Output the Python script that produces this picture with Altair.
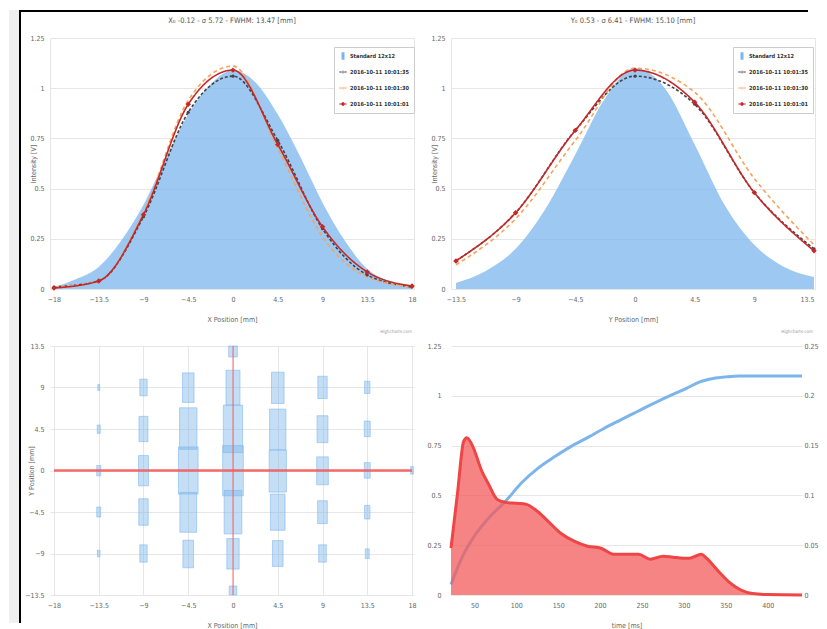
import altair as alt
import pandas as pd

FONT = "'Liberation Sans Narrow', 'DejaVu Sans Condensed', sans-serif"
GRID = "#e6e6e6"
LABEL = "#666666"

SERIES = ["Standard 12x12", "2016-10-11 10:01:35", "2016-10-11 10:01:30", "2016-10-11 10:01:01"]
COLORS = ["#7cb5ec", "#434348", "#f7a35c", "#c62828"]
DASHES = [[3, 2], [4, 3], [1, 0]]

# ---- top-left: X profile ----
xa_std = [-18, -15.75, -13.5, -11.25, -9, -6.75, -4.5, -2.25, 0, 2.25, 4.5, 6.75, 9, 11.25, 13.5, 15.75, 18]
ya_std = [0.01, 0.05, 0.11, 0.24, 0.42, 0.65, 0.87, 1.02, 1.09, 1.03, 0.87, 0.66, 0.43, 0.24, 0.10, 0.04, 0.02]
xa = [-18, -13.5, -9, -4.5, 0, 4.5, 9, 13.5, 18]
ya_35 = [0.01, 0.04, 0.36, 0.88, 1.06, 0.74, 0.30, 0.07, 0.01]
ya_30 = [0.01, 0.04, 0.38, 0.94, 1.11, 0.70, 0.26, 0.06, 0.01]
ya_01 = [0.005, 0.04, 0.37, 0.92, 1.09, 0.72, 0.31, 0.085, 0.015]

# ---- top-right: Y profile ----
xb_std = [-13.5, -11.25, -9, -6.75, -4.5, -2.25, 0, 2.25, 4.5, 6.75, 9, 11.25, 13.5]
yb_std = [0.03, 0.09, 0.20, 0.40, 0.67, 0.95, 1.10, 1.00, 0.72, 0.42, 0.22, 0.11, 0.06]
xb = [-13.5, -9, -4.5, 0, 4.5, 9, 13.5]
yb_35 = [0.14, 0.38, 0.79, 1.06, 0.92, 0.48, 0.20]
yb_30 = [0.12, 0.35, 0.74, 1.10, 0.98, 0.55, 0.22]
yb_01 = [0.14, 0.38, 0.79, 1.09, 0.93, 0.48, 0.19]

# ---- bottom-left: spot map boxes ----
box_x = [-13.5] * 5 + [-9] * 5 + [-4.5] * 5 + [0] * 7 + [4.5] * 5 + [9] * 5 + [13.5] * 5 + [18]
box_lo = [8.68, 4.03, -0.58, -5.04, -9.36,
          8.1, 3.13, -1.66, -5.94, -9.94,
          7.38, 2.3, -2.56, -6.7, -10.55,
          12.31, 7.09, 1.94, -2.74, -6.88, -10.69, -13.5,
          7.27, 2.23, -2.34, -6.48, -10.4,
          7.81, 3.02, -1.55, -5.76, -9.94,
          8.35, 3.67, -0.83, -5.26, -9.54,
          -0.4]
box_hi = [9.32, 4.93, 0.54, -3.96, -8.64,
          9.9, 5.87, 1.62, -3.06, -8.06,
          10.58, 6.8, 2.56, -2.38, -7.56,
          13.5, 10.87, 7.09, 2.7, -2.16, -7.38, -12.53,
          10.66, 6.66, 2.23, -2.56, -7.6,
          10.22, 5.94, 1.48, -3.28, -8.06,
          9.68, 5.36, 0.86, -3.78, -8.5,
          0.43]
box_w = [0.2, 0.3, 0.4, 0.4, 0.25,
         0.74, 0.9, 1.0, 0.95, 0.74,
         1.17, 1.74, 1.98, 1.68, 1.07,
         0.87, 1.41, 1.94, 2.08, 1.78, 1.24, 0.77,
         1.27, 1.64, 1.74, 1.47, 1.07,
         0.94, 1.1, 1.17, 0.97, 0.77,
         0.54, 0.6, 0.6, 0.54, 0.4,
         0.27]
cross_x1 = [-18, 0]
cross_x2 = [18, 0]
cross_lo = [0, -13.5]
cross_hi = [0, 13.5]

# ---- bottom-right: time series ----
t_red = [22, 30, 37, 41, 47, 59, 67, 77, 87, 100, 112, 122, 138, 153, 169, 185, 201, 216, 232, 246,
         260, 275, 287, 299, 307, 321, 327, 341, 354, 368, 382, 400, 441]
v_red = [0.047, 0.104, 0.154, 0.158, 0.151, 0.124, 0.111, 0.096, 0.093, 0.092, 0.091, 0.086, 0.074,
         0.062, 0.054, 0.049, 0.047, 0.041, 0.041, 0.041, 0.036, 0.039, 0.038, 0.037, 0.037, 0.041,
         0.037, 0.024, 0.013, 0.005, 0.0014, 0.0004, 0.0]
t_blue = [22, 35, 51, 67, 87, 106, 126, 146, 165, 185, 205, 224, 244, 264, 283, 303, 319, 335, 350, 366, 441]
v_blue = [0.053, 0.187, 0.303, 0.387, 0.47, 0.562, 0.637, 0.695, 0.745, 0.79, 0.837, 0.878, 0.92,
          0.962, 1.0, 1.037, 1.07, 1.087, 1.095, 1.1, 1.1]

intensity_ticks = [0, 0.25, 0.5, 0.75, 1, 1.25]
x_ticks = [-18, -13.5, -9, -4.5, 0, 4.5, 9, 13.5, 18]
y_ticks = [-13.5, -9, -4.5, 0, 4.5, 9, 13.5]
time_ticks = [50, 100, 150, 200, 250, 300, 350, 400]
right_ticks = [0, 0.05, 0.1, 0.15, 0.2, 0.25]

SQUARE = "M-0.4,-1H0.4V1H-0.4Z"
DOTDASH = "M-1,-0.12H1V0.12H-1Z M-0.35,0A0.35,0.35 0 1,0 0.35,0A0.35,0.35 0 1,0 -0.35,0Z"
DIAMOND = "M-1,-0.12H1V0.12H-1Z M0,-0.6L0.6,0L0,0.6L-0.6,0Z"
LEG_SHAPES = [SQUARE, DOTDASH, DOTDASH, DIAMOND]


def make_legend(lx, ly):
    return alt.Legend(
        title=None, orient="none", legendX=lx, legendY=ly, fillColor="white",
        strokeColor="#cccccc", padding=5, cornerRadius=0, labelFont=FONT, labelFontSize=5.6,
        labelFontWeight="bold", labelColor="#333333", symbolSize=56, rowPadding=8, labelOffset=3,
        symbolStrokeWidth=0, symbolOpacity=1,
    )


one = pd.DataFrame({"k": [0]})


def axis_kw(**kw):
    base = dict(labelFont=FONT, labelFontSize=7, labelColor=LABEL, titleFont=FONT, titleFontSize=7,
                titleColor=LABEL, titleFontWeight="normal", gridColor=GRID, ticks=False, domain=False,
                format=".2~f")
    base.update(kw)
    return alt.Axis(**base)


def profile(xs_std, ys_std, xs, y35, y30, y01, title, xtitle, xdom, width, legx):
    std_df = pd.DataFrame({"pos": xs_std, "val": ys_std, "series": SERIES[0]})
    ln_df = pd.concat([pd.DataFrame({"pos": xs, "val": v, "series": s})
                       for v, s in zip([y35, y30, y01], SERIES[1:])], ignore_index=True)
    leg_df = pd.DataFrame({"pos": [xdom[0] - 50] * 4, "val": [0.5] * 4, "series": SERIES})
    cscale = alt.Scale(domain=SERIES, range=COLORS)
    legend = make_legend(legx, 9)
    color = alt.Color("series:N", scale=cscale, legend=legend)
    x = alt.X("pos:Q", scale=alt.Scale(domain=xdom, nice=False, zero=False),
              axis=axis_kw(values=xs, grid=False, title=xtitle, labelPadding=6, titlePadding=13))
    y = alt.Y("val:Q", scale=alt.Scale(domain=[0, 1.25], nice=False),
              axis=axis_kw(values=intensity_ticks, grid=True, title="Intensity [V]",
                           labelPadding=6, titleX=-17, titleBaseline="middle"))
    layers = [
        alt.Chart(std_df).mark_area(interpolate="monotone", opacity=0.75).encode(x=x, y=y, color=color),
        alt.Chart(ln_df).mark_line(interpolate="monotone", strokeWidth=1.6).encode(
            x=x, y=y, color=color,
            strokeDash=alt.StrokeDash("series:N", scale=alt.Scale(domain=SERIES[1:], range=DASHES), legend=None)),
        alt.Chart(ln_df).transform_filter(alt.datum.series == SERIES[1]).mark_point(
            shape="circle", filled=True, size=10, opacity=1).encode(x=x, y=y, color=color),
        alt.Chart(ln_df).transform_filter(alt.datum.series == SERIES[3]).mark_point(
            shape="diamond", filled=True, size=30, opacity=1).encode(x=x, y=y, color=color),
        alt.Chart(leg_df).mark_point(filled=True, clip=True, size=56, opacity=1).encode(
            x=x, y=y, color=color,
            shape=alt.Shape("series:N", scale=alt.Scale(domain=SERIES, range=LEG_SHAPES), legend=legend)),
        alt.Chart(one).mark_text(text="Highcharts.com", align="right", fontSize=4.5, color="#999999",
                                 font=FONT).encode(x=alt.value(width - 2), y=alt.value(294)),
    ]
    return alt.layer(*layers).properties(
        width=width, height=251,
        title=alt.TitleParams(title, font=FONT, fontSize=7.5, color="#555555", fontWeight="normal",
                              offset=10, frame="group", anchor="middle"),
        view=alt.ViewBackground(stroke="#e6e6e6"),
    )


A = profile(xa_std, ya_std, xa, ya_35, ya_30, ya_01, "X\u2080 -0.12 - \u03c3 5.72 - FWHM: 13.47 [mm]",
            "X Position [mm]", [-18.4, 18.2], 364, 284)
B = profile(xb_std, yb_std, xb, yb_35, yb_30, yb_01, "Y\u2080 0.53 - \u03c3 6.41 - FWHM: 15.10 [mm]",
            "Y Position [mm]", [-13.875, 13.575], 364, 282)

# ---- bottom-left ----
box_df = pd.DataFrame({"bx": box_x, "lo": box_lo, "hi": box_hi, "w": box_w})
cross_df = pd.DataFrame({"x1": cross_x1, "x2": cross_x2, "lo": cross_lo, "hi": cross_hi, "kind": ["h", "v"]})
xC = alt.X("x1:Q", scale=alt.Scale(domain=[-18.4, 18.2], nice=False, zero=False),
           axis=axis_kw(values=x_ticks, grid=True, title="X Position [mm]", labelPadding=6, titlePadding=13))
yC = alt.Y("lo:Q", scale=alt.Scale(domain=[-13.5, 13.5], nice=False, zero=False),
           axis=axis_kw(values=y_ticks, grid=True, title="Y Position [mm]", labelPadding=6,
                        titleX=-19, titleBaseline="middle"))
frame = [
    alt.Chart(one).mark_rect(color="#f0f0f0").encode(
        x=alt.value(-41), x2=alt.value(-31), y=alt.value(-336), y2=alt.value(277)),
    alt.Chart(one).mark_rule(color="black", strokeWidth=2).encode(
        x=alt.value(-30), y=alt.value(-336), y2=alt.value(277)),
    alt.Chart(one).mark_rule(color="black", strokeWidth=2).encode(
        x=alt.value(-31), x2=alt.value(758), y=alt.value(-335)),
]
rects = alt.Chart(box_df).transform_calculate(
    x1="datum.bx - datum.w / 2", x2="datum.bx + datum.w / 2"
).mark_rect(fill="#7cb5ec", fillOpacity=0.45, stroke="#7cb5ec", strokeOpacity=0.55, strokeWidth=1).encode(
    x=xC, x2="x2:Q", y=yC, y2="hi:Q")
vline = alt.Chart(cross_df).transform_filter(alt.datum.kind == "v").mark_rule(
    color="#f45b5b", strokeWidth=2, opacity=0.45).encode(x=xC, y=yC, y2="hi:Q")
hline = alt.Chart(cross_df).transform_filter(alt.datum.kind == "h").mark_rule(
    color="#f45b5b", strokeWidth=2.5, opacity=0.9).encode(x=xC, x2="x2:Q", y=yC)
C = alt.layer(*frame, rects, vline, hline).properties(width=364, height=249)

# ---- bottom-right ----
blue_df = pd.DataFrame({"t": t_blue, "v": v_blue})
red_df = pd.DataFrame({"t": t_red, "v": v_red})
xD = alt.X("t:Q", scale=alt.Scale(domain=[22, 441], nice=False, zero=False),
           axis=axis_kw(values=time_ticks, grid=False, title="time [ms]", labelPadding=6, titlePadding=13,
                        domain=True, domainColor="#e6e6e6"))
blue = alt.Chart(blue_df).mark_line(interpolate="monotone", color="#7cb5ec", strokeWidth=3).encode(
    x=xD, y=alt.Y("v:Q", scale=alt.Scale(domain=[0, 1.25], nice=False),
                  axis=axis_kw(values=intensity_ticks, grid=True, title=None, labelPadding=10)))
red = alt.Chart(red_df).mark_area(
    interpolate="monotone", color="#f45b5b", opacity=0.75,
    line=alt.OverlayMarkDef(color="#ef4545", strokeWidth=3)).encode(
    x=xD, y=alt.Y("v:Q", scale=alt.Scale(domain=[0, 0.25], nice=False),
                  axis=axis_kw(values=right_ticks, grid=False, title=None, orient="right", labelPadding=2)))
D = alt.layer(blue, red).resolve_scale(y="independent").properties(width=351, height=249)

chart = alt.concat(
    A, B, C, D, columns=2, spacing={"row": 57, "column": 37}, bounds="flush", align="none", padding=0
).resolve_scale(
    color="independent", shape="independent", strokeDash="independent"
).resolve_legend(
    color="independent", shape="independent"
).configure(font=FONT).configure_view(stroke="transparent")

chart.save("out.html", embed_options={"renderer": "svg", "actions": False})
